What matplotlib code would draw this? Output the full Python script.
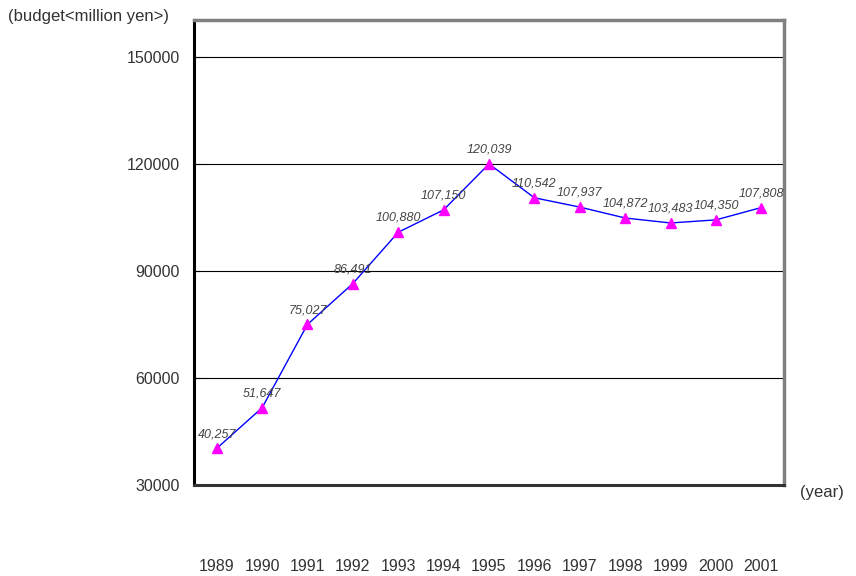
import matplotlib.pyplot as plt

years = [1989, 1990, 1991, 1992, 1993, 1994, 1995, 1996, 1997, 1998, 1999, 2000, 2001]
budget = [40257, 51647, 75027, 86491, 100880, 107150, 120039, 110542, 107937, 104872, 103483, 104350, 107808]
yticks = [30000, 60000, 90000, 120000, 150000]

plt.rcParams['font.family'] = ['Liberation Sans', 'DejaVu Sans']

fig = plt.figure(figsize=(8.56, 5.76), dpi=100)
ax = fig.add_axes([194 / 856, 1 - 485 / 576, 590 / 856, 465 / 576])

ax.plot(years, budget, color='blue', linewidth=1, zorder=3)
ax.plot(years, budget, linestyle='none', marker='^', markersize=6.5,
        color='magenta', zorder=4)

for x, y in zip(years, budget):
    ax.annotate(f'{y:,}', (x, y), xytext=(0, 6), textcoords='offset points',
                ha='center', va='bottom', fontsize=9, style='italic',
                color='#444444')

ax.set_xlim(1988.5, 2001.5)
ax.set_ylim(30000, 160400)
ax.set_yticks(yticks)
ax.set_yticklabels([str(v) for v in yticks], fontsize=11.5, color='#333333')
ax.set_xticks(years)
ax.set_xticklabels([str(y) for y in years], fontsize=11.5, color='#333333')
ax.tick_params(axis='x', length=0, pad=53)
ax.tick_params(axis='y', direction='in', length=4, pad=10)
ax.grid(axis='y', color='black', linewidth=0.8)

ax.spines['left'].set_color('black')
ax.spines['left'].set_linewidth(2.2)
ax.spines['bottom'].set_color('#333333')
ax.spines['bottom'].set_linewidth(2.2)
ax.spines['top'].set_color('#808080')
ax.spines['top'].set_linewidth(2.5)
ax.spines['right'].set_color('#808080')
ax.spines['right'].set_linewidth(2.5)

# axis captions sit outside the frame
fig.text(8 / 856, 1 - 16 / 576, '(budget<million yen>)', fontsize=12,
         color='#333333', va='center', ha='left')
fig.text(800 / 856, 1 - 492 / 576, '(year)', fontsize=12,
         color='#333333', va='center', ha='left')

fig.savefig('out.png', dpi=100)
